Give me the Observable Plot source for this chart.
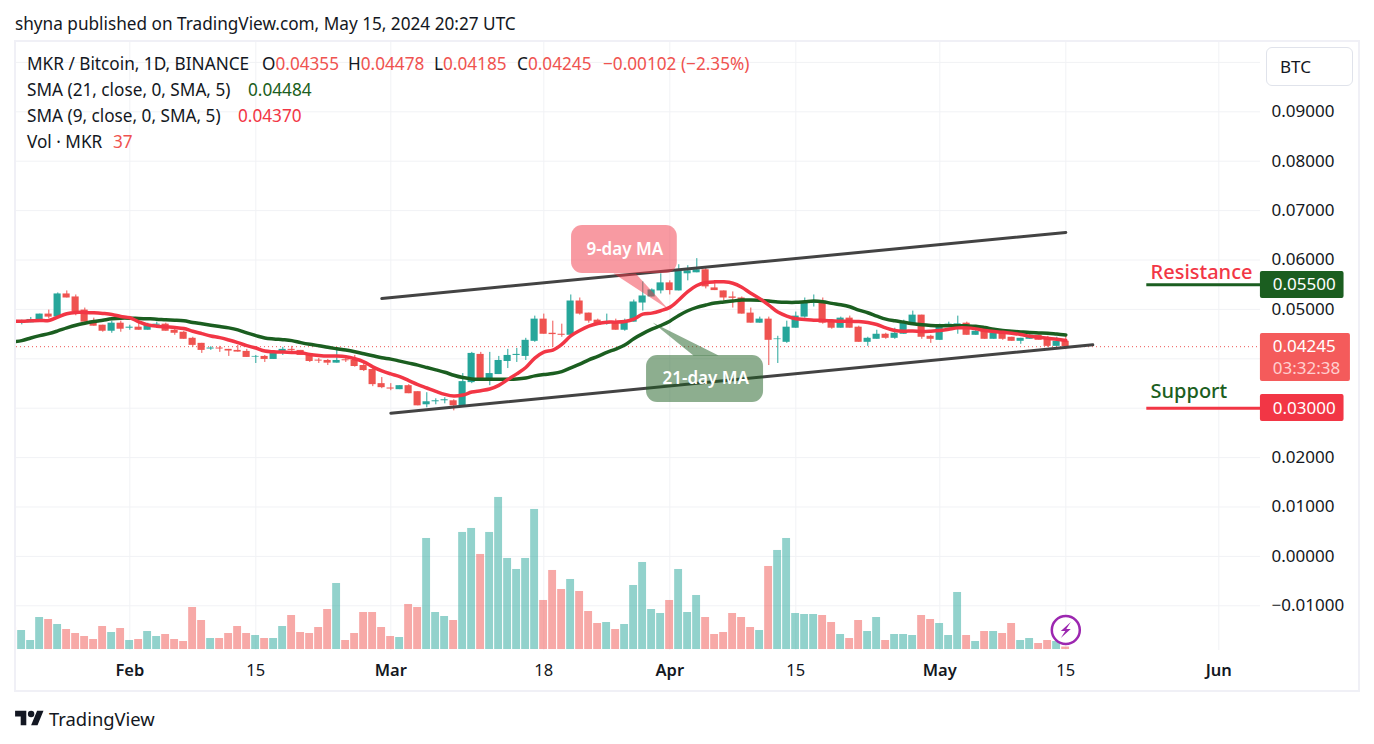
<!DOCTYPE html>
<html><head><meta charset="utf-8">
<script src="https://cdn.jsdelivr.net/npm/d3@7"></script>
<script src="https://cdn.jsdelivr.net/npm/@observablehq/plot@0.6"></script>
<style>
html,body{margin:0;padding:0;background:#fff;width:1374px;height:744px;overflow:hidden;font-family:"Noto Sans",sans-serif;color:#131722}
#pane{position:absolute;left:14px;top:40px;width:1342px;height:648px;border:2px solid #f0f0f6}
.t{position:absolute;white-space:nowrap;font-size:17.2px;line-height:20px}
.r{color:#ef5350}.g{color:#1b5e20}.p{color:#f23645}
#btc{position:absolute;left:1266px;top:47px;width:85px;height:37px;border:1px solid #e0e3eb;border-radius:6px;background:#fff;font-size:17px;line-height:37px;text-indent:13px}
</style></head><body>
<div class="t" style="left:15px;top:14px">shyna published on TradingView.com, May 15, 2024 20:27 UTC</div>
<div id="pane"></div>
<div class="t" style="left:27px;top:54px">MKR / Bitcoin, 1D, BINANCE</div>
<div class="t" style="left:262px;top:54px">O<span class="r">0.04355</span></div>
<div class="t" style="left:348px;top:54px">H<span class="r">0.04478</span></div>
<div class="t" style="left:434px;top:54px">L<span class="r">0.04185</span></div>
<div class="t" style="left:517px;top:54px">C<span class="r">0.04245</span></div>
<div class="t r" style="left:603px;top:54px">−0.00102 (−2.35%)</div>
<div class="t" style="left:27px;top:80px">SMA (21, close, 0, SMA, 5)</div>
<div class="t g" style="left:248px;top:80px">0.04484</div>
<div class="t" style="left:27px;top:106px">SMA (9, close, 0, SMA, 5)</div>
<div class="t p" style="left:238px;top:106px">0.04370</div>
<div class="t" style="left:27px;top:132px">Vol · MKR</div>
<div class="t r" style="left:113px;top:132px">37</div>
<div id="btc">BTC</div>
<svg style="position:absolute;left:15px;top:710px" width="29" height="16" viewBox="0 3 36 20"><path fill="#131722" d="M14 22H7V11H0V4h14v18zM28 22h-8l7.5-18h8L28 22z"/><circle fill="#131722" cx="20" cy="8" r="4"/></svg>
<div class="t" style="left:49px;top:707px;font-size:18.4px;line-height:24px">TradingView</div>
<script>
// Daily dates, 19 Jan – 15 May 2024
const firstDay = new Date("2024-01-19"), lastDay = new Date("2024-05-16");
const dates = d3.utcDay.range(firstDay, lastDay);

const open = [
.04770,.04735,.04728,.04789,.04905,.04844,.05313,.05252,.04986,.04762,.04680,.04558,.04721,
.04619,.04640,.04578,.04680,.04701,.04578,.04538,.04415,.04313,.04198,.04218,.04191,.04170,.04150,.04034,.04048,.03987,.04109,.04191,.04170,.04096,.03973,.03966,.03912,.03980,.03966,.03864,.03783,.03497,
.03409,.03375,.03456,.03334,.03069,.03130,.03150,.03150,.03048,.03518,.04089,.03599,.03681,.03946,.04068,.04048,.04354,.04803,.04517,.04497,.04476,.05170,.04925,.04782,.04701,.04742,.04578,.04742,.05129,.05252,.05374,
.05537,.05374,.05721,.05741,.05802,.05435,.05374,.05252,.05231,.04925,.04721,.04803,.04388,.04334,.04619,.04844,.05122,.05150,.04762,.04619,.04823,.04640,.04334,.04395,.04497,.04415,.04497,.04701,.04884,.04456,
.04374,.04680,.04701,.04721,.04476,.04558,.04395,.04538,.04436,.04354,.04395,.04476,.04395,.04252,.04355];
const high = [
.04800,.04782,.04837,.04905,.04986,.05333,.05374,.05292,.05027,.04823,.04680,.04762,.04762,
.04680,.04742,.04721,.04742,.04721,.04599,.04558,.04436,.04313,.04245,.04252,.04191,.04272,.04191,.04068,.04068,.04130,.04232,.04252,.04170,.04096,.04007,.03987,.04170,.04028,.04068,.03905,.03803,.03620,
.03497,.03456,.03477,.03334,.03314,.03191,.03212,.03171,.03701,.04130,.04130,.04130,.04048,.04191,.04211,.04415,.04864,.04905,.04762,.04701,.05292,.05231,.04925,.04803,.04905,.04803,.04803,.05190,.05558,.05415,.05721,
.05578,.05904,.05884,.06027,.05864,.05578,.05374,.05354,.05252,.05027,.04844,.04844,.04456,.04762,.04946,.05231,.05292,.05231,.04762,.04844,.04864,.04660,.04436,.04578,.04517,.04619,.04782,.04966,.04884,.04476,
.04701,.04742,.04864,.04742,.04640,.04578,.04538,.04558,.04436,.04415,.04497,.04476,.04456,.04436,.04478];
const low = [
.04700,.04687,.04728,.04789,.04810,.04844,.05231,.04871,.04742,.04660,.04538,.04517,.04538,
.04578,.04578,.04578,.04646,.04558,.04476,.04395,.04232,.04109,.04170,.04130,.04048,.04136,.04028,.03905,.03926,.03987,.04068,.04130,.04068,.03926,.03905,.03864,.03912,.03926,.03830,.03742,.03436,.03395,
.03354,.03375,.03293,.03048,.03008,.03069,.03089,.02946,.03048,.03497,.03558,.03456,.03681,.03803,.03926,.03966,.04334,.04497,.04232,.04436,.04476,.04884,.04721,.04680,.04680,.04578,.04558,.04742,.04966,.05252,.05313,
.05292,.05374,.05578,.05741,.05415,.05381,.05170,.05027,.04905,.04721,.04721,.03864,.03905,.04313,.04619,.04823,.05048,.04701,.04599,.04619,.04619,.04334,.04252,.04395,.04395,.04395,.04497,.04701,.04395,.04313,
.04374,.04640,.04497,.04476,.04476,.04395,.04395,.04374,.04354,.04293,.04395,.04374,.04232,.04252,.04185];
const close = [
.04740,.04762,.04796,.04905,.04844,.05313,.05231,.04952,.04742,.04660,.04558,.04721,.04599,
.04640,.04578,.04680,.04701,.04558,.04517,.04395,.04272,.04170,.04218,.04198,.04157,.04136,.04028,.04048,.03987,.04130,.04191,.04170,.04068,.03946,.03953,.03912,.03966,.03960,.03844,.03762,.03477,.03416,
.03388,.03456,.03293,.03048,.03130,.03150,.03171,.03048,.03538,.04109,.03599,.03701,.03966,.04068,.04089,.04374,.04803,.04497,.04490,.04476,.05170,.04905,.04762,.04680,.04742,.04578,.04762,.05150,.05272,.05394,.05537,
.05381,.05782,.05782,.05802,.05456,.05381,.05231,.05224,.04905,.04721,.04803,.04374,.04402,.04640,.04864,.05129,.05150,.04721,.04619,.04823,.04619,.04334,.04415,.04497,.04415,.04517,.04721,.04884,.04436,.04395,
.04680,.04701,.04714,.04476,.04558,.04395,.04517,.04395,.04354,.04415,.04476,.04374,.04252,.04354,.04245];

const sma9 = [
.04762,.04762,.04769,.04776,.04776,.04844,.04912,.04939,.04939,.04932,.04918,.04898,.04857,
.04830,.04748,.04687,.04660,.04646,.04633,.04612,.04558,.04510,.04463,.04429,.04381,.04327,.04266,.04218,.04157,.04143,.04136,.04130,.04123,.04089,.04068,.04055,.04055,.04041,.04000,.03939,.03837,.03756,
.03694,.03640,.03558,.03477,.03409,.03341,.03280,.03246,.03266,.03327,.03354,.03388,.03463,.03579,.03694,.03824,.04014,.04136,.04177,.04293,.04463,.04572,.04660,.04714,.04742,.04742,.04755,.04803,.04905,.04925,.04973,
.05041,.05190,.05360,.05483,.05544,.05558,.05558,.05530,.05449,.05326,.05218,.05088,.04946,.04864,.04810,.04796,.04782,.04776,.04769,.04762,.04762,.04755,.04735,.04694,.04626,.04572,.04558,.04565,.04551,.04558,
.04572,.04599,.04626,.04626,.04606,.04572,.04551,.04538,.04517,.04490,.04456,.04436,.04415,.04395,.04370];
const sma21 = [
.04347,.04368,.04422,.04470,.04510,.04565,.04626,.04680,.04721,.04755,.04782,.04810,.04823,
.04823,.04816,.04810,.04803,.04789,.04782,.04769,.04735,.04708,.04680,.04653,.04626,.04585,.04524,.04470,.04422,.04402,.04388,.04368,.04327,.04293,.04266,.04232,.04204,.04177,.04143,.04102,.04062,.04021,
.03994,.03953,.03912,.03871,.03824,.03776,.03728,.03667,.03620,.03592,.03586,.03586,.03586,.03586,.03592,.03613,.03654,.03681,.03701,.03742,.03817,.03892,.03980,.04048,.04130,.04198,.04279,.04408,.04510,.04599,.04674,
.04762,.04878,.04973,.05041,.05088,.05129,.05150,.05170,.05190,.05190,.05184,.05170,.05150,.05143,.05143,.05156,.05170,.05156,.05122,.05095,.05054,.04986,.04932,.04864,.04803,.04769,.04742,.04708,.04687,.04674,
.04667,.04667,.04667,.04667,.04660,.04633,.04599,.04572,.04558,.04544,.04531,.04524,.04517,.04500,.04484];

const volume = [
330,285,135,480,450,375,300,240,195,150,345,255,315,
135,150,270,195,225,150,120,630,435,165,165,240,345,240,210,165,165,345,510,255,240,330,600,990,135,240,555,555,330,
195,180,675,630,1665,555,495,435,1755,1815,1425,1755,2280,1365,1200,1365,2100,735,1185,900,1050,870,570,390,405,300,375,960,1305,600,540,
735,1200,555,810,480,225,255,540,480,330,285,1245,1485,1665,540,525,525,510,405,225,165,435,270,480,135,225,225,210,510,450,
390,210,855,210,120,270,270,240,390,135,165,90,135,120,37];
// t = green volume bar, d = red volume bar
const volumeSide = ("dtttdtdddddtd"+"tdttdddddtddddtdttdddddtddddd"+"dtddtttdttdtttttt"+"dddtdddtdttttt"+"dtttddddddtdtttttddtddttdtttdd"+"tttdtdtddttddtd").split("");

const priceTicks = [0.09,0.08,0.07,0.06,0.05,0.02,0.01,0,-0.01];
const gridPrices = [0.1,0.09,0.08,0.07,0.06,0.05,0.04,0.03,0.02,0.01,0,-0.01];
const monthTicks = ["2024-02-01","2024-03-01","2024-04-01","2024-05-01","2024-06-01"].map(d=>new Date(d));
const dayTicks = ["2024-02-15","2024-03-18","2024-04-15","2024-05-15"].map(d=>new Date(d));

const upperTrend = [{x:new Date("2024-02-29"),y:0.05221},{x:new Date("2024-05-15"),y:0.06557}];
const lowerTrend = [{x:new Date("2024-03-01"),y:0.02899},{x:new Date("2024-05-18"),y:0.04283}];
const lastPrice = 0.04245, resistance = 0.055, support = 0.03;

const UP="#26a69a", DOWN="#ef5350", RED="#f23645", GREEN="#1b5e20", GRID="#f1f2f5";
const hours=(d,h)=>d3.utcHour.offset(d,h);
const rows = dates.map((date,i)=>({date,o:open[i],h:high[i],l:low[i],c:close[i],s9:sma9[i],s21:sma21[i],v:volume[i],side:volumeSide[i]}));

// Volume overlay shares the pane: baseline price and price-per-unit of volume
const volBase=-0.01885, volK=1.35e-5;

const box=(a,b,y1,y2,fill,o={})=>Plot.rect([{}],{x1:new Date(a),x2:new Date(b),y1,y2,fill,rx:2,...o});
const label=(x,y,text,fill,o={})=>Plot.text([text],{x:new Date(x),y,text:d=>d,fill,textAnchor:"start",fontSize:17,...o});
const poly=(pts,fill,fillOpacity)=>Plot.line(pts.map(([x,y])=>({x:new Date(x),y})),{x:"x",y:"y",fill,fillOpacity,stroke:"none"});
const bolt={draw(c){c.moveTo(5,-8);c.lineTo(-5,1);c.lineTo(-.5,1);c.lineTo(-5,8);c.lineTo(5,-1);c.lineTo(.5,-1);c.closePath();}};

const chart = Plot.plot({
  width:1342,height:648,marginLeft:0,marginTop:0,marginRight:98,marginBottom:40,
  style:{fontFamily:'"Noto Sans",sans-serif',background:"transparent",overflow:"visible"},
  color:{type:"identity"},
  x:{type:"utc",domain:[new Date("2024-01-19"),new Date("2024-06-07")],range:[-3.7,1256.3],axis:null},
  y:{domain:[-0.01905,0.10403],range:[608,0],axis:null},
  marks:[
    Plot.ruleY(gridPrices,{stroke:GRID,strokeWidth:1,strokeOpacity:1}),
    Plot.ruleX([...monthTicks,...dayTicks],{stroke:GRID,strokeWidth:1}),
    Plot.rect(rows,{x1:d=>hours(d.date,-10.6),x2:d=>hours(d.date,10.6),y1:volBase,y2:d=>volBase+d.v*volK,
      fill:d=>d.side==="t"?UP:DOWN,fillOpacity:.5,clip:true}),
    Plot.ruleY([lastPrice],{stroke:DOWN,strokeWidth:1,strokeDasharray:"1,3"}),
    Plot.ruleX(rows,{x:"date",y1:"l",y2:"h",stroke:d=>d.c>=d.o?UP:DOWN,strokeWidth:1,clip:true}),
    Plot.rect(rows,{x1:d=>hours(d.date,-9.3),x2:d=>hours(d.date,9.3),y1:"o",y2:"c",fill:d=>d.c>=d.o?UP:DOWN,clip:true}),
    Plot.line(upperTrend,{x:"x",y:"y",stroke:"#434343",strokeWidth:3}),
    Plot.line(lowerTrend,{x:"x",y:"y",stroke:"#434343",strokeWidth:3}),
    Plot.line(rows,{x:"date",y:"s21",stroke:GREEN,strokeWidth:3.5,curve:"catmull-rom",clip:true}),
    Plot.line(rows,{x:"date",y:"s9",stroke:RED,strokeWidth:3.5,curve:"catmull-rom",clip:true}),
    // Callouts
    box("2024-03-21T02:00Z","2024-04-01T20:00Z",0.05727,0.06698,RED,{rx:11,fillOpacity:.5}),
    poly([["2024-03-25T18:00Z",0.05727],["2024-03-28T05:00Z",0.05727],["2024-03-31T21:00Z",0.05]],RED,.5),
    box("2024-03-29T10:00Z","2024-04-11T10:00Z",0.03115,0.04067,GREEN,{rx:11,fillOpacity:.5}),
    poly([["2024-04-03T15:00Z",0.04067],["2024-04-06T10:00Z",0.04067],["2024-03-30T02:00Z",0.04735]],GREEN,.5),
    // Level lines
    Plot.ruleY([resistance],{x1:new Date("2024-05-24"),x2:new Date("2024-06-07"),stroke:GREEN,strokeWidth:3,clip:true}),
    Plot.ruleY([support],{x1:new Date("2024-05-24"),x2:new Date("2024-06-07"),stroke:RED,strokeWidth:3,clip:true}),
    label("2024-05-24T10:00Z",0.05747,"Resistance",RED,{fontSize:20,fontWeight:500}),
    label("2024-05-24T10:00Z",0.03338,"Support",GREEN,{fontSize:20,fontWeight:500}),
    // Axis labels
    Plot.axisY(priceTicks,{anchor:"right",tickSize:0,tickPadding:11,tickFormat:d3.format(".5f"),fontSize:17,fill:"#131722",label:null}),
    Plot.axisX(monthTicks,{anchor:"bottom",tickSize:0,tickPadding:14,tickFormat:d3.utcFormat("%b"),fontSize:16.5,fontWeight:600,fill:"#131722",label:null}),
    Plot.axisX(dayTicks,{anchor:"bottom",tickSize:0,tickPadding:14,tickFormat:d=>String(d.getUTCDate()),fontSize:16.5,fill:"#131722",label:null}),
    // Price labels
    box("2024-06-05T15:00Z","2024-06-14T22:00Z",0.05221,0.05767,GREEN),
    box("2024-06-05T15:00Z","2024-06-15T15:00Z",0.03541,0.04512,"#f45b5b"),
    box("2024-06-05T15:00Z","2024-06-14T22:00Z",0.02731,0.03277,RED),
    label("2024-06-07",resistance,"0.05500","#fff"),
    label("2024-06-07",lastPrice,"0.04245","#fff"),
    label("2024-06-07",0.03804,"03:32:38","#ffd0d0"),
    label("2024-06-07",support,"0.03000","#fff"),
    // Callout text
    Plot.text(["9-day MA"],{x:new Date("2024-03-27"),y:0.06213,text:d=>d,fill:"#fff",fontSize:17,fontWeight:600}),
    Plot.text(["21-day MA"],{x:new Date("2024-04-05"),y:0.03601,text:d=>d,fill:"#fff",fontSize:17,fontWeight:600}),
    // Event badge
    Plot.dot([{}],{x:new Date("2024-05-15"),y:-0.0149,r:14,fill:"#fff",stroke:"#9c27b0",strokeWidth:2.5}),
    Plot.dot([{}],{x:new Date("2024-05-15"),y:-0.0149,r:8,symbol:bolt,fill:"#9c27b0",stroke:"none"})
  ]
});
document.getElementById("pane").appendChild(chart);
</script>
</body></html>
